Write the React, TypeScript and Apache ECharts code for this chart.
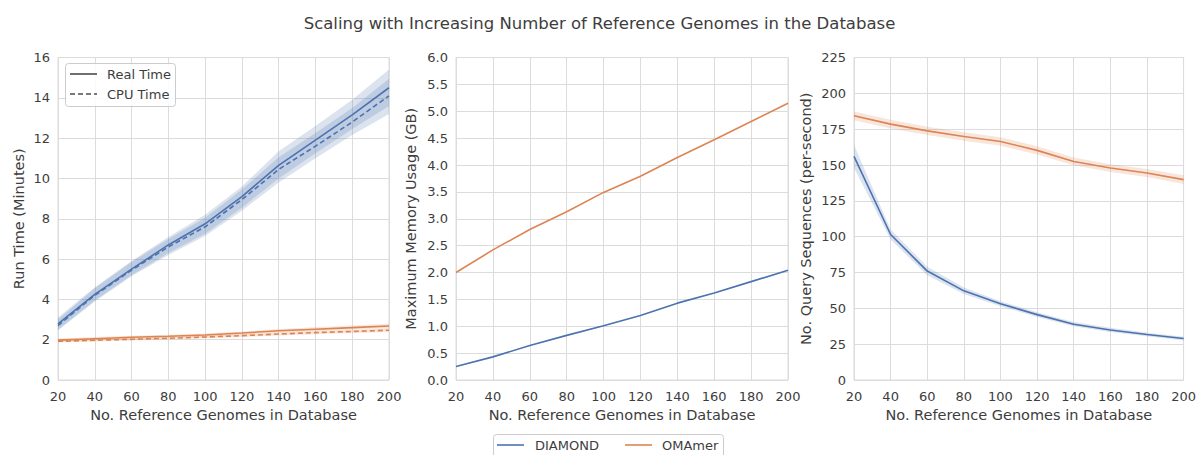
import React, { useEffect, useRef } from "react";
import * as echarts from "echarts";

const genomes = [20, 40, 60, 80, 100, 120, 140, 160, 180, 200];

// Panel 1: run time (minutes)
const diamondReal = [2.78, 4.25, 5.5, 6.7, 7.75, 9.1, 10.65, 11.9, 13.15, 14.5];
const diamondRealLo = [2.5, 3.95, 5.2, 6.3, 7.25, 8.55, 10.0, 11.25, 12.45, 13.6];
const diamondRealHi = [3.1, 4.6, 5.9, 7.1, 8.2, 9.6, 11.35, 12.6, 13.9, 15.4];
const diamondCpu = [2.7, 4.2, 5.45, 6.6, 7.6, 8.95, 10.45, 11.6, 12.8, 14.1];
const diamondCpuLo = [2.45, 3.9, 5.15, 6.2, 7.15, 8.4, 9.8, 11.0, 12.15, 13.2];
const diamondCpuHi = [3.0, 4.55, 5.85, 7.0, 8.05, 9.45, 11.05, 12.25, 13.5, 14.95];
const omamerReal = [1.98, 2.05, 2.12, 2.17, 2.23, 2.33, 2.44, 2.52, 2.6, 2.68];
const omamerRealLo = [1.9, 1.97, 2.04, 2.09, 2.15, 2.25, 2.35, 2.42, 2.5, 2.57];
const omamerRealHi = [2.06, 2.13, 2.2, 2.25, 2.31, 2.41, 2.53, 2.62, 2.7, 2.79];
const omamerCpu = [1.92, 1.97, 2.02, 2.07, 2.13, 2.2, 2.28, 2.35, 2.41, 2.47];
const omamerCpuLo = [1.86, 1.91, 1.96, 2.01, 2.07, 2.13, 2.21, 2.27, 2.33, 2.38];
const omamerCpuHi = [1.98, 2.03, 2.08, 2.13, 2.19, 2.27, 2.35, 2.43, 2.49, 2.56];

// Panel 2: maximum memory usage (GB)
const diamondMem = [0.25, 0.43, 0.64, 0.83, 1.01, 1.2, 1.43, 1.62, 1.83, 2.04];
const omamerMem = [2.0, 2.42, 2.8, 3.13, 3.49, 3.79, 4.14, 4.47, 4.81, 5.15];

// Panel 3: query sequences per second
const diamondQps = [156, 101.5, 76, 62.2, 53.2, 45.6, 38.9, 34.9, 31.7, 28.9];
const diamondQpsLo = [148, 98, 73, 60, 51.5, 44, 37.5, 33.5, 30.5, 27.6];
const diamondQpsHi = [164, 105, 79, 64.5, 55, 47.3, 40.4, 36.4, 33, 30.2];
const omamerQps = [184.3, 178.5, 173.8, 169.9, 166.4, 160.2, 152.5, 147.9, 144.4, 139.8];
const omamerQpsLo = [181.3, 175.5, 171, 167, 163.5, 157.3, 149.8, 145.2, 141.6, 136.8];
const omamerQpsHi = [187.3, 181.5, 176.6, 172.8, 169.3, 163.1, 155.2, 150.6, 147.2, 142.8];

const BLUE = "#4c72b0";
const ORANGE = "#dd8452";
const GRID = "#dcdcdc";
const TEXT = "#3d3d3d";
const FONT = "DejaVu Sans";

const pairs = (vals: number[]) => genomes.map((g, i) => [g, vals[i]]);

function band(id: string, lo: number[], hi: number[], color: string, idx: number, opacity = 0.2) {
  return {
    type: "custom",
    name: id + "-band",
    xAxisIndex: idx,
    yAxisIndex: idx,
    silent: true,
    z: 2,
    data: genomes.map((g, i) => [g, lo[i], hi[i]]),
    encode: { x: 0, y: [1, 2] },
    renderItem: (params: any, api: any) => {
      if (params.dataIndex !== 0) return null;
      const upper = genomes.map((g, i) => api.coord([g, hi[i]]));
      const lower = genomes.map((g, i) => api.coord([g, lo[i]])).reverse();
      return {
        type: "polygon",
        shape: { points: upper.concat(lower) },
        style: { fill: color, opacity },
      };
    },
  };
}

function line(name: string, vals: number[], color: string, idx: number, dashed = false) {
  return {
    type: "line",
    name,
    xAxisIndex: idx,
    yAxisIndex: idx,
    data: pairs(vals),
    symbol: "none",
    lineStyle: { color, width: 1.6, type: dashed ? [5, 3] : "solid" },
    itemStyle: { color },
    z: 5,
  };
}

const grids = [
  { left: 58, width: 331 },
  { left: 456, width: 332 },
  { left: 854, width: 332 },
];

const yNames = ["Run Time (Minutes)", "Maximum Memory Usage (GB)", "No. Query Sequences (per-second)"];
const yMax = [16, 6, 225];
const yInt = [2, 0.5, 25];
const yGap = [32, 37.5, 40.5];

export default function App() {
  const ref = useRef<HTMLDivElement>(null);
  useEffect(() => {
    if (!ref.current) return;
    const chart = echarts.init(ref.current, undefined, { renderer: "svg" });
    const axisText = { color: TEXT, fontFamily: FONT, fontSize: 13 };
    const nameText = { color: TEXT, fontFamily: FONT, fontSize: 14.5 };

    const legendLine = (x: number, y: number, color: string, dashed: boolean) => ({
      type: "line",
      shape: { x1: x, y1: y, x2: x + 27, y2: y },
      style: { stroke: color, lineWidth: 1.6, lineDash: dashed ? [5, 3] : null },
    });
    const legendText = (x: number, y: number, text: string) => ({
      type: "text",
      x,
      y,
      style: { text, fill: TEXT, font: `13px ${FONT}`, verticalAlign: "middle" },
    });

    chart.setOption({
      animation: false,
      backgroundColor: "#ffffff",
      title: {
        text: "Scaling with Increasing Number of Reference Genomes in the Database",
        left: "center",
        top: 10,
        textStyle: { color: TEXT, fontFamily: FONT, fontSize: 16.5, fontWeight: "normal" },
      },
      grid: grids.map((g) => ({
        left: g.left,
        width: g.width,
        top: 57.5,
        height: 322.5,
        show: true,
        borderColor: GRID,
        borderWidth: 1,
        backgroundColor: "#ffffff",
      })),
      xAxis: grids.map((_, i) => ({
        type: "value",
        gridIndex: i,
        min: 20,
        max: 200,
        interval: 20,
        name: "No. Reference Genomes in Database",
        nameLocation: "middle",
        nameGap: 27,
        nameTextStyle: nameText,
        axisLine: { show: false },
        axisTick: { show: false },
        axisLabel: { ...axisText, margin: 10 },
        splitLine: { show: true, lineStyle: { color: GRID, width: 1 } },
      })),
      yAxis: grids.map((_, i) => ({
        type: "value",
        gridIndex: i,
        min: 0,
        max: yMax[i],
        interval: yInt[i],
        name: yNames[i],
        nameLocation: "middle",
        nameGap: yGap[i],
        nameTextStyle: nameText,
        axisLine: { show: false },
        axisTick: { show: false },
        axisLabel: {
          ...axisText,
          margin: 8,
          formatter: (v: number) => (i === 1 ? v.toFixed(1) : String(v)),
        },
        splitLine: { show: true, lineStyle: { color: GRID, width: 1 } },
      })),
      series: [
        band("dr", diamondRealLo, diamondRealHi, BLUE, 0),
        band("dc", diamondCpuLo, diamondCpuHi, BLUE, 0),
        band("or", omamerRealLo, omamerRealHi, ORANGE, 0),
        band("oc", omamerCpuLo, omamerCpuHi, ORANGE, 0),
        line("DIAMOND", diamondReal, BLUE, 0),
        line("DIAMOND CPU", diamondCpu, BLUE, 0, true),
        line("OMAmer", omamerReal, ORANGE, 0),
        line("OMAmer CPU", omamerCpu, ORANGE, 0, true),
        line("DIAMOND", diamondMem, BLUE, 1),
        line("OMAmer", omamerMem, ORANGE, 1),
        band("dq", diamondQpsLo, diamondQpsHi, BLUE, 2),
        band("oq", omamerQpsLo, omamerQpsHi, ORANGE, 2),
        line("DIAMOND", diamondQps, BLUE, 2),
        line("OMAmer", omamerQps, ORANGE, 2),
      ],
      graphic: [
        {
          type: "rect",
          shape: { x: 65.5, y: 63.5, width: 110, height: 43, r: 3 },
          style: { fill: "rgba(255,255,255,0.85)", stroke: "#cccccc", lineWidth: 1 },
          z: 10,
        },
        { ...legendLine(70, 74, "#4d4d4d", false), z: 11 },
        { ...legendText(107, 74, "Real Time"), z: 11 },
        { ...legendLine(70, 94, "#4d4d4d", true), z: 11 },
        { ...legendText(107, 94, "CPU Time"), z: 11 },
        {
          type: "rect",
          shape: { x: 493.5, y: 434.5, width: 230, height: 24, r: 3 },
          style: { fill: "#ffffff", stroke: "#cccccc", lineWidth: 1 },
          z: 10,
        },
        { ...legendLine(497, 445, BLUE, false), z: 11 },
        { ...legendText(535, 445, "DIAMOND"), z: 11 },
        { ...legendLine(625, 445, ORANGE, false), z: 11 },
        { ...legendText(662, 445, "OMAmer"), z: 11 },
      ],
    });
    return () => chart.dispose();
  }, []);
  return (
    <div
      ref={ref}
      style={{ position: "fixed", left: 0, top: 0, width: 1199, height: 455, background: "#fff" }}
    />
  );
}
